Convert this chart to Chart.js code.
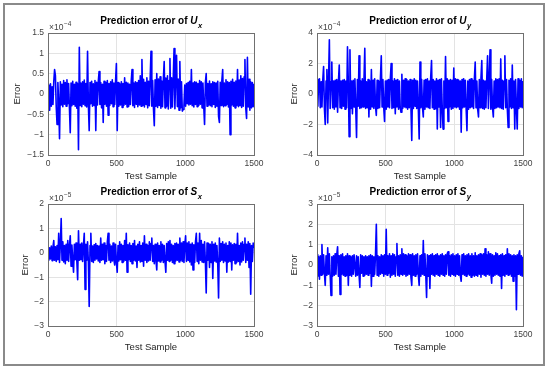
<!DOCTYPE html>
<html><head><meta charset="utf-8">
<script src="https://cdn.jsdelivr.net/npm/chart.js@4.4.1/dist/chart.umd.min.js"></script>
<style>
html,body{margin:0;padding:0;background:#fff;}
#wrap{position:relative;width:550px;height:370px;overflow:hidden;background:#fff;}
#frame{position:absolute;left:3px;top:3px;width:538px;height:359px;border:2px solid #8a8a8a;}
canvas{position:absolute;left:0;top:0;}
</style></head><body>
<div id="wrap"><div id="frame"></div>
<canvas id="c1" width="550" height="370"></canvas>
<canvas id="c2" width="550" height="370"></canvas>
<canvas id="c3" width="550" height="370"></canvas>
<canvas id="c4" width="550" height="370"></canvas>
</div>
<script>
// ---- data (values in units of 10^exponent) ----
const sampleStep = 6; // one plotted value every 6 test samples
const xTicks = [0, 500, 1000, 1500];

const uxExponent = -4;
const uxTicks = [-1.5, -1, -0.5, 0, 0.5, 1, 1.5];
const uxValues = [
 0.22,-0.28,-0.40,0.25,-0.30,0.18,-0.26,0.30,0.60,0.45,
 -0.32,-0.75,0.28,-0.22,-1.10,0.30,-0.27,0.24,-0.31,0.33,
 -0.25,0.28,-0.30,0.35,-0.24,0.26,-0.33,-0.95,0.27,-0.29,
 0.31,-0.26,0.24,-0.30,0.29,-0.35,0.25,-1.37,1.15,-0.28,
 0.27,-0.31,0.30,-0.25,0.34,-0.29,0.26,-0.32,1.05,-0.27,
 -0.90,0.28,-0.24,0.31,-0.30,0.25,-0.28,0.33,-0.90,0.29,
 -0.27,0.30,0.55,-0.26,0.28,-0.34,0.24,-0.70,0.31,-0.25,
 0.29,-0.30,0.33,-0.52,0.26,-0.28,0.30,-0.24,0.35,-0.31,
 0.27,-0.26,0.32,0.75,-0.90,0.28,-0.30,0.25,-0.27,0.30,
 -0.33,0.26,-0.28,0.40,-0.25,0.29,-0.32,0.27,-0.30,0.24,
 -0.26,0.31,0.60,-0.29,0.27,-0.33,0.30,-0.25,0.28,-0.31,
 0.33,-0.27,0.45,-0.30,0.85,-0.28,0.36,-0.32,0.29,-0.26,
 0.40,-0.34,0.31,-0.29,0.38,1.05,-0.30,0.33,-0.36,-0.78,
 0.35,-0.30,0.50,-0.33,0.37,-0.28,0.42,-0.35,0.32,-0.31,
 0.36,0.80,-0.34,0.39,-0.30,0.45,-0.37,0.33,0.87,-0.35,
 0.40,-0.32,0.38,1.12,-0.36,0.42,0.95,-0.31,0.37,-0.40,
 0.80,-0.34,0.30,-0.42,-0.38,-0.28,0.22,-0.30,0.26,-0.24,
 0.28,-0.27,0.31,-0.25,0.60,-0.29,0.27,-0.32,0.30,-0.26,
 0.29,-0.31,0.26,-0.28,0.33,-0.25,0.30,-0.34,0.27,-0.29,
 -0.75,0.28,0.50,-0.30,0.26,-0.27,0.32,-0.29,0.25,-0.31,
 0.30,-0.26,0.28,-0.33,0.27,-0.30,0.31,-0.55,-0.70,0.29,
 -0.28,0.33,0.60,-0.31,0.27,-0.29,0.35,-0.26,0.30,-0.32,
 0.28,-1.00,0.31,-0.27,0.36,-0.30,0.29,-0.34,0.32,-0.28,
 0.60,-0.31,0.34,-0.29,0.45,-0.33,0.38,-0.30,0.42,0.85,
 -0.35,-0.60,0.90,-0.32,0.36,-0.40,0.30,-0.34,0.28,-0.31,
 0.25
];

const uyExponent = -4;
const uyTicks = [-4, -2, 0, 2, 4];
const uyValues = [
 0.85,-0.80,0.95,1.00,-0.90,0.80,-0.85,0.90,1.80,-0.95,
 -2.00,0.85,1.60,-1.90,0.90,3.55,-0.95,0.80,2.10,-0.90,
 0.85,-1.00,0.90,-0.85,0.95,-1.20,0.80,1.90,-0.90,0.85,
 -0.95,0.90,-0.80,0.95,-1.00,0.85,-0.90,3.10,0.80,-2.80,
 2.90,-0.95,0.85,-1.30,0.90,-0.85,1.00,-0.90,-2.85,0.95,
 -0.80,2.50,-0.95,0.85,-0.90,1.00,-0.85,0.90,3.00,-0.95,
 0.80,-0.90,0.95,-1.50,0.85,-1.00,1.60,-0.85,0.90,-0.95,
 1.00,-0.80,-1.40,0.90,-0.95,0.85,-0.90,1.05,2.50,-0.85,
 0.95,-0.90,-1.80,0.85,-1.00,0.90,-0.85,0.95,-0.90,1.00,
 2.00,-0.95,0.85,-0.90,1.00,-1.30,0.90,-0.85,0.95,-1.00,
 0.85,-0.90,-1.20,1.30,-0.95,0.90,-0.85,1.00,-0.90,0.95,
 -1.00,0.85,-0.90,0.95,-0.85,-3.05,0.90,-0.95,1.00,-0.80,
 0.90,-0.95,0.85,-1.00,-2.95,2.10,-0.90,0.95,-0.85,-1.50,
 0.90,-1.00,0.95,-0.85,1.00,-0.90,0.85,-0.95,1.10,2.20,
 -0.90,0.95,-1.00,0.85,-0.95,1.00,-2.30,0.90,-0.85,0.95,
 -2.20,1.00,-0.90,-2.30,0.85,-0.95,2.45,-0.90,1.00,-1.80,
 0.90,-0.85,0.95,-1.00,0.90,-0.95,1.70,-0.85,1.00,-0.90,
 0.95,-0.85,0.90,-1.00,0.85,-2.50,0.95,-0.90,1.00,-0.85,
 0.90,-0.95,-2.40,0.85,-1.00,0.95,-0.90,1.00,-0.85,0.90,
 -0.95,1.00,2.10,-0.90,0.85,-1.00,-1.50,0.95,-0.90,1.05,
 2.20,-0.95,0.90,-1.00,0.85,-0.90,1.00,2.50,-0.95,0.90,
 2.90,-1.00,0.95,-0.90,-1.50,0.85,-0.95,1.00,-0.90,0.95,
 -0.85,1.00,-0.90,2.30,-0.95,0.90,-1.00,0.85,2.50,-0.90,
 0.95,-1.00,-2.20,0.90,-0.85,1.00,-0.95,1.90,-0.90,0.85,
 -2.30,0.95,-0.90,-2.30,1.00,-0.95,0.90,-0.85,1.00,-0.90,
 0.85
];

const sxExponent = -5;
const sxTicks = [-3, -2, -1, 0, 1, 2];
const sxValues = [
 0.15,-0.30,0.20,-0.25,0.28,-0.32,0.22,0.50,-0.30,0.25,
 -0.35,0.30,-0.28,0.80,-0.40,0.35,1.40,-0.30,0.45,-0.38,
 0.30,-0.45,0.35,-0.30,0.50,-0.35,0.28,0.70,-0.55,0.32,
 -0.30,-0.80,0.35,-0.28,0.40,-0.33,-1.10,0.90,-0.30,0.35,
 -0.28,0.40,-0.35,0.30,0.80,-1.50,0.35,-0.30,0.45,-0.38,
 -2.20,0.30,0.80,-0.35,0.28,-0.40,0.33,-0.30,0.38,-0.25,
 0.30,-0.33,0.28,-0.40,0.60,-0.30,0.35,-0.28,0.40,-0.45,
 0.30,-0.35,0.45,0.80,-0.30,0.35,-0.40,0.28,-0.33,0.40,
 -0.30,-0.50,0.35,-0.38,-0.80,0.30,-0.33,0.45,-0.28,0.35,
 -0.40,0.30,-0.35,0.50,-0.30,0.80,-0.80,0.33,-0.28,0.40,
 -0.35,0.30,-0.45,0.38,-0.30,0.50,-0.33,0.28,-0.60,0.35,
 -0.30,0.45,-0.38,0.30,-0.35,0.40,-0.55,0.70,-0.30,0.35,
 -0.40,0.30,-0.33,0.45,-0.30,0.38,0.60,-0.35,0.30,-0.45,
 0.35,-0.30,-0.70,0.40,-0.33,0.30,-0.38,0.45,-0.30,0.35,
 -0.40,0.30,-0.35,-0.80,0.38,-0.30,0.45,-0.35,0.50,-0.30,
 0.35,-0.40,0.30,-0.45,0.38,-0.33,0.40,-0.30,0.35,-0.38,
 0.60,-0.30,0.40,-0.35,0.45,-0.40,0.30,0.70,-0.35,0.40,
 -0.30,0.45,-0.38,0.35,-0.50,0.40,-0.70,0.33,-0.40,0.45,
 0.80,-0.35,0.40,-0.45,0.80,-0.30,0.50,-0.38,0.35,-0.40,
 0.45,-0.35,-1.65,0.40,-0.30,0.38,-0.60,0.35,-0.40,0.45,
 -1.05,0.35,-0.33,0.40,-0.38,0.30,-0.45,-1.85,0.60,-0.35,
 0.38,-0.30,0.45,-0.40,0.35,-0.33,0.40,-0.80,0.30,-0.38,
 0.45,-0.35,0.40,-0.70,0.33,-0.30,0.38,-0.45,0.35,-0.40,
 0.80,-0.35,0.30,-0.50,0.40,-0.38,0.45,-0.30,0.35,0.60,
 -0.40,0.35,-0.30,0.45,-0.60,0.38,-1.70,0.30,-0.35,0.40,
 0.20
];

const syExponent = -5;
const syTicks = [-3, -2, -1, 0, 1, 2, 3];
const syValues = [
 0.50,-0.55,0.40,-0.70,0.45,-0.50,1.00,-0.45,0.50,-0.40,
 -1.00,0.45,-0.50,0.85,-0.45,0.55,-0.50,-1.50,0.40,-0.55,
 0.45,-0.50,0.55,-0.45,0.50,0.90,-0.55,0.45,-1.45,0.50,
 -0.45,0.55,-0.50,0.40,-0.55,0.45,-0.50,0.55,-1.00,0.45,
 -0.50,0.40,-0.55,0.45,-0.45,0.50,0.50,-0.55,0.45,-0.50,
 0.40,-0.45,-1.10,0.50,-0.40,0.45,-0.55,0.40,-0.50,0.45,
 -0.45,0.40,-0.50,0.45,-0.40,0.50,-1.05,0.45,-0.55,0.40,
 -0.45,0.50,2.00,-0.50,0.45,-0.55,0.40,-0.45,0.50,-0.40,
 0.45,-0.55,0.50,-0.45,1.75,-0.50,0.45,-0.40,0.55,-0.60,
 0.45,-0.50,0.55,-0.45,0.50,-0.55,0.40,1.05,-0.50,0.45,
 -0.55,0.50,-0.45,0.80,-0.50,0.55,-0.45,0.50,-0.55,0.45,
 -0.50,0.55,-0.45,0.50,-0.60,-1.00,0.55,-0.50,0.45,-0.55,
 0.50,-0.45,0.55,-0.50,-1.00,0.45,-0.55,0.50,-0.45,1.20,
 -0.50,0.55,-0.45,-1.60,0.50,-0.55,0.45,-1.15,0.50,-0.45,
 0.55,-0.50,0.45,-0.55,0.50,-0.45,0.55,-0.50,0.45,-0.55,
 0.50,-0.45,0.55,-0.50,0.45,-0.55,0.50,-0.45,0.55,0.65,
 -0.50,0.45,-0.55,0.50,-0.45,0.55,-0.50,0.45,-0.55,0.50,
 -0.45,0.55,-0.50,0.45,-0.55,-0.80,0.50,-0.45,0.55,-0.50,
 0.45,-0.55,0.50,-0.45,0.55,-0.50,0.45,-0.60,0.55,-0.50,
 0.45,-0.55,0.60,-0.50,0.45,-0.55,0.50,-0.45,0.55,-0.60,
 0.50,-0.45,0.55,-0.50,0.80,-0.55,0.50,-0.45,0.65,-0.50,
 0.55,-0.45,-0.90,0.50,-0.55,0.45,-0.50,0.60,-0.45,0.55,
 -0.50,0.45,-0.55,0.50,-1.15,0.55,-0.50,0.45,-0.55,0.50,
 -0.45,0.80,-0.50,0.55,-0.45,0.50,-0.55,0.45,-0.80,0.50,
 -0.55,0.45,-2.20,0.50,-0.45,0.55,0.70,-0.50,0.45,-0.55,
 0.40
];

// ---- rendering ----
const FF = '"Liberation Sans", Arial, Helvetica, sans-serif';
const fmt = v => { const r = Number(Math.abs(v).toFixed(2)).toString(); return (v < 0 ? '\u2212' : '') + r; };

const decor = {
  id: 'decor',
  afterDraw(chart, args, o) {
    const {ctx, chartArea: a} = chart;
    ctx.save();
    ctx.strokeStyle = '#707070'; ctx.lineWidth = 1;
    ctx.strokeRect(a.left + 0.5, a.top + 0.5, a.right - a.left, a.bottom - a.top);
    const fMain = 'bold 10px ' + FF, fVar = 'italic bold 10px ' + FF, fSub = 'italic bold 7.5px ' + FF;
    ctx.font = fMain; const w1 = ctx.measureText(o.main).width;
    ctx.font = fVar; const w2 = ctx.measureText(o.v).width;
    ctx.font = fSub; const w3 = ctx.measureText(o.sub).width;
    let x = (a.left + a.right) / 2 - (w1 + w2 + w3) / 2;
    const y = a.top - 9;
    ctx.fillStyle = '#000'; ctx.textAlign = 'left'; ctx.textBaseline = 'alphabetic';
    ctx.font = fMain; ctx.fillText(o.main, x, y); x += w1;
    ctx.font = fVar; ctx.fillText(o.v, x, y); x += w2;
    ctx.font = fSub; ctx.fillText(o.sub, x + 0.5, y + 3.5);
    ctx.fillStyle = '#404040';
    ctx.font = '8.5px ' + FF;
    const ex = a.left + 1, ey = a.top - 3;
    ctx.fillText('\u00d710', ex, ey);
    const we = ctx.measureText('\u00d710').width;
    ctx.font = '6.5px ' + FF;
    ctx.fillText(fmt(o.exp), ex + we + 0.5, ey - 4);
    ctx.restore();
  }
};

function makePanel(id, values, ticks, exp, varName, sub, box) {
  const samples = values.map((_, i) => i * sampleStep);
  const yw = 48, xh = 30;
  new Chart(document.getElementById(id), {
    type: 'line',
    data: { labels: samples, datasets: [{ data: values, borderColor: '#0000ff', borderWidth: 1.6, borderJoinStyle: 'round', pointRadius: 0, tension: 0, fill: false }] },
    options: {
      responsive: false, animation: false, events: [],
      layout: { padding: { left: box.l - yw, top: box.t, right: 550 - box.r, bottom: 370 - box.b - xh } },
      plugins: { legend: { display: false }, tooltip: { enabled: false },
        decor: { main: 'Prediction error of ', v: varName, sub: sub, exp: exp } },
      scales: {
        x: { type: 'linear', min: xTicks[0], max: xTicks[xTicks.length - 1],
          afterFit: s => { s.height = xh; },
          afterBuildTicks: s => { s.ticks = xTicks.map(v => ({ value: v })); },
          grid: { color: '#e3e3e3', drawTicks: false },
          border: { display: false },
          ticks: { padding: 4, autoSkip: false, maxRotation: 0, color: '#404040', font: { family: FF, size: 8.5 }, callback: v => fmt(v) },
          title: { display: true, text: 'Test Sample', color: '#262626', font: { family: FF, size: 9.5 }, padding: { top: 0, bottom: 3 } } },
        y: { type: 'linear', min: ticks[0], max: ticks[ticks.length - 1],
          afterFit: s => { s.width = yw; },
          afterBuildTicks: s => { s.ticks = ticks.map(v => ({ value: v })); },
          grid: { color: '#e3e3e3', drawTicks: false },
          border: { display: false },
          ticks: { padding: 4, autoSkip: false, color: '#404040', font: { family: FF, size: 8.5 }, callback: v => fmt(v) },
          title: { display: true, text: 'Error', color: '#262626', font: { family: FF, size: 9.5 }, padding: { top: box.et, bottom: 0 } } }
      }
    },
    plugins: [decor]
  });
}

makePanel('c1', uxValues, uxTicks, uxExponent, 'U', 'x', { l: 48, r: 254, t: 33, b: 155, et: 12 });
makePanel('c2', uyValues, uyTicks, uyExponent, 'U', 'y', { l: 317, r: 523, t: 33, b: 155, et: 20 });
makePanel('c3', sxValues, sxTicks, sxExponent, 'S', 'x', { l: 48, r: 254, t: 204, b: 326, et: 20 });
makePanel('c4', syValues, syTicks, syExponent, 'S', 'y', { l: 317, r: 523, t: 204, b: 326, et: 20 });
</script>
</body></html>
